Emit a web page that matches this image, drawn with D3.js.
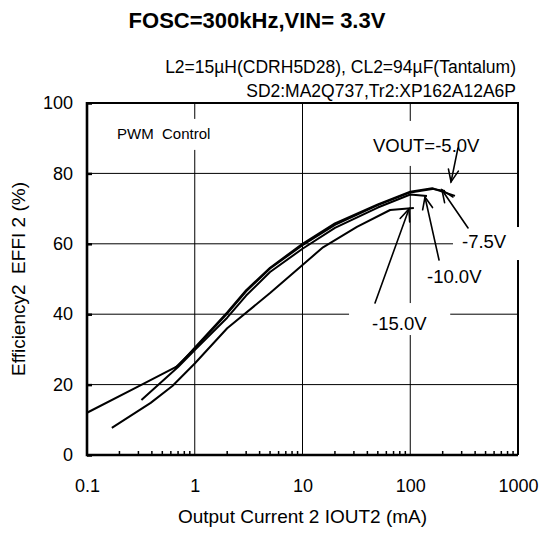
<!DOCTYPE html>
<html>
<head>
<meta charset="utf-8">
<script src="https://cdn.jsdelivr.net/npm/d3@7"></script>
<style>
  body { margin: 0; background: #fff; }
  text { font-family: "Liberation Sans", Arial, sans-serif; fill: #000; }
</style>
</head>
<body>
<div id="chart"></div>
<script>
// ---- data ----
const seriesNames = ["-5.0V", "-7.5V", "-10.0V", "-15.0V"];

const iout5 = [0.1, 0.3, 0.7, 1, 2, 3, 5, 10, 20, 50, 100, 160, 260];
const eff5 = [12, 19.5, 25.3, 30.5, 40.5, 46.8, 53.2, 60, 65.8, 71.2, 74.8, 75.8, 73.6];

const iout7 = [0.65, 1, 2, 3, 5, 10, 20, 50, 100, 160, 210];
const eff7 = [24.6, 30.2, 40.2, 46.5, 53, 59.6, 65.4, 71, 74.6, 75.6, 75];

const iout10 = [0.32, 0.7, 1, 2, 3, 5, 10, 20, 50, 100, 143];
const eff10 = [15.6, 25, 29.8, 39, 45.3, 52, 58.6, 64.5, 70.3, 74, 73.6];

const iout15 = [0.17, 0.39, 0.62, 1, 2, 5, 10, 15.5, 32, 65, 108];
const eff15 = [7.7, 14.8, 19.6, 26, 36, 46, 54, 59, 64.8, 69.6, 70.2];

const xTickValues = [0.1, 1, 10, 100, 1000];
const xTickLabels = ["0.1", "1", "10", "100", "1000"];
const yTickValues = [0, 20, 40, 60, 80, 100];

// labels: text, anchor (mA, %)
const labelTexts = ["VOUT=-5.0V", "-7.5V", "-10.0V", "-15.0V"];
const labelAt = [[45.1, 86.1], [302, 58.8], [143, 48.9], [44.2, 35.5]];
// arrows: tail (mA, %) -> tip (mA, %)
const arrowFrom = [[277, 87.2], [344, 64.5], [185, 55.4], [47.1, 43.2]];
const arrowTo = [[239, 77.6], [197, 75.3], [137, 73.3], [97.3, 69.9]];

const titleText = "FOSC=300kHz,VIN= 3.3V";
const subtitle1 = "L2=15\u00b5H(CDRH5D28), CL2=94\u00b5F(Tantalum)";
const subtitle2 = "SD2:MA2Q737,Tr2:XP162A12A6P";
const noteText = "PWM\u00a0 Control";
const xTitle = "Output Current 2 IOUT2 (mA)";
const yTitle = "Efficiency2\u00a0 EFFI 2 (%)";

// ---- chart ----
const width = 542, height = 535;
const margin = { top: 103, right: 24, bottom: 80, left: 87 };

const svg = d3.select("#chart").append("svg")
  .attr("width", width)
  .attr("height", height);

const x = d3.scaleLog().domain([0.1, 1000]).range([margin.left, width - margin.right]);
const y = d3.scaleLinear().domain([0, 100]).range([height - margin.bottom, margin.top]);

// grid
svg.append("g").selectAll("line")
  .data(xTickValues.slice(1, -1))
  .join("line")
  .attr("x1", d => x(d)).attr("x2", d => x(d))
  .attr("y1", y(0)).attr("y2", y(100))
  .attr("stroke", "#000").attr("stroke-width", 1);

svg.append("g").selectAll("line")
  .data(yTickValues.slice(1, -1))
  .join("line")
  .attr("x1", x(0.1)).attr("x2", x(1000))
  .attr("y1", d => y(d)).attr("y2", d => y(d))
  .attr("stroke", "#000").attr("stroke-width", 1);

// minor ticks on the bottom axis
const minor = [];
[0.1, 1, 10, 100].forEach(dec => { for (let k = 2; k <= 9; k++) minor.push(dec * k); });
svg.append("g").selectAll("line")
  .data(minor)
  .join("line")
  .attr("x1", d => x(d)).attr("x2", d => x(d))
  .attr("y1", y(0)).attr("y2", y(0) - 4)
  .attr("stroke", "#000").attr("stroke-width", 1.5);

// curves
const series = [
  d3.zip(iout5, eff5),
  d3.zip(iout7, eff7),
  d3.zip(iout10, eff10),
  d3.zip(iout15, eff15)
];
const line = d3.line().x(d => x(d[0])).y(d => y(d[1]));
svg.append("g").selectAll("path")
  .data(series)
  .join("path")
  .attr("d", line)
  .attr("fill", "none")
  .attr("stroke", "#000")
  .attr("stroke-width", 2)
  .attr("stroke-linejoin", "round");

// annotation labels with white boxes (cut the grid like the original)
const labelPads = [[10, 14, 10, 10], [9, 4, 14, 8], [6, 4, 6, 4], [23, 10, 23, 1]];
const noteG = svg.append("g");
function boxedText(g, tx, ty, str, size, pad) {
  const t = g.append("text").attr("x", tx).attr("y", ty)
    .style("font-size", size + "px").text(str);
  const b = t.node().getBBox();
  g.insert("rect", "text")
    .attr("x", b.x - pad[0]).attr("y", b.y - pad[1])
    .attr("width", b.width + pad[0] + pad[2])
    .attr("height", b.height + pad[1] + pad[3])
    .attr("fill", "#fff");
  return t;
}
boxedText(noteG.append("g"), x(0.19), y(89.8), noteText, 15, [4, 6, 4, 8]);
labelTexts.forEach((s, i) => {
  boxedText(noteG.append("g"), x(labelAt[i][0]), y(labelAt[i][1]), s, 18.5, labelPads[i]);
});

// arrows
const arrowG = svg.append("g").attr("stroke", "#000").attr("stroke-width", 1.6)
  .attr("fill", "none").attr("stroke-linecap", "round");
arrowFrom.forEach((f, i) => {
  const x0 = x(f[0]), y0 = y(f[1]), x1 = x(arrowTo[i][0]), y1 = y(arrowTo[i][1]);
  const a = Math.atan2(y1 - y0, x1 - x0);
  const len = 13, spread = 0.4;
  arrowG.append("line").attr("x1", x0).attr("y1", y0).attr("x2", x1).attr("y2", y1);
  arrowG.append("path").attr("d",
    `M${x1 - len * Math.cos(a - spread)},${y1 - len * Math.sin(a - spread)}` +
    `L${x1},${y1}` +
    `L${x1 - len * Math.cos(a + spread)},${y1 - len * Math.sin(a + spread)}`);
});

// axes
const yAxis = svg.append("g")
  .attr("transform", `translate(${margin.left},0)`)
  .call(d3.axisLeft(y).tickValues(yTickValues).tickSizeInner(-5).tickSizeOuter(0).tickPadding(14));
const xAxis = svg.append("g")
  .attr("transform", `translate(0,${height - margin.bottom})`)
  .call(d3.axisBottom(x).tickValues(xTickValues)
    .tickFormat((d, i) => xTickLabels[i]).tickSizeInner(0).tickSizeOuter(0).tickPadding(24));
[yAxis, xAxis].forEach(ax => {
  ax.select(".domain").remove();
  ax.selectAll("text").style("font-size", "18px")
    .style("font-family", "'Liberation Sans', Arial, sans-serif").attr("fill", "#000");
});
yAxis.selectAll(".tick line").attr("stroke-width", 2.5);

// frame
const frame = svg.append("g").attr("stroke", "#000").attr("fill", "none");
frame.append("line").attr("x1", x(0.1)).attr("x2", x(0.1)).attr("y1", y(100) - 1).attr("y2", y(0) + 1.2).attr("stroke-width", 2.6);
frame.append("line").attr("x1", x(0.1)).attr("x2", x(1000)).attr("y1", y(0)).attr("y2", y(0)).attr("stroke-width", 2.6);
frame.append("line").attr("x1", x(0.1)).attr("x2", x(1000) + 1).attr("y1", y(100)).attr("y2", y(100)).attr("stroke-width", 2);
frame.append("line").attr("x1", x(1000)).attr("x2", x(1000)).attr("y1", y(100)).attr("y2", y(0)).attr("stroke-width", 2);

// the -7.5V box also cuts the right border in the original
noteG.raise();
arrowG.raise();

// titles
svg.append("text").attr("x", 257).attr("y", 28).attr("text-anchor", "middle")
  .style("font-size", "22px").style("font-weight", "bold").text(titleText);
svg.append("text").attr("x", 516).attr("y", 73).attr("text-anchor", "end")
  .style("font-size", "17.5px").text(subtitle1);
svg.append("text").attr("x", 516).attr("y", 97).attr("text-anchor", "end")
  .style("font-size", "17.5px").text(subtitle2);
svg.append("text").attr("x", (x(0.1) + x(1000)) / 2).attr("y", 523).attr("text-anchor", "middle")
  .style("font-size", "19px").text(xTitle);
svg.append("text").attr("transform", `translate(25,${(y(0) + y(100)) / 2}) rotate(-90)`)
  .attr("text-anchor", "middle").style("font-size", "19px").text(yTitle);
</script>
</body>
</html>
